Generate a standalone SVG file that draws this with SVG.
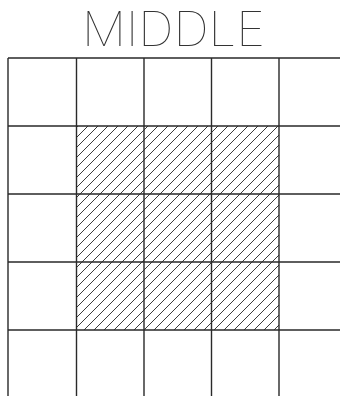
<svg xmlns="http://www.w3.org/2000/svg" width="340" height="396" viewBox="0 0 340 396">
  <defs>
    <pattern id="hatch" patternUnits="userSpaceOnUse" x="4" y="0" width="10" height="10">
      <path d="M-1,1 L1,-1 M0,10 L10,0 M9,11 L11,9" stroke="#3a3a3a" stroke-width="1" fill="none"/>
    </pattern>
  </defs>
  <style>
    .grid { stroke: #2a2a2a; stroke-width: 1.4; fill: none; }
    .title { font-family: Inter, "DejaVu Sans", sans-serif; font-weight: 100; font-size: 47px; fill: #333; }
  </style>
  <rect width="340" height="396" fill="#ffffff"/>
  <text class="title" x="82" y="46" textLength="183" lengthAdjust="spacingAndGlyphs">MIDDLE</text>
  <rect x="76.5" y="126" width="202.5" height="204" fill="url(#hatch)"/>
  <g id="grid" class="grid">
    <path d="M8,58 H340 M8,126 H340 M8,194 H340 M8,262 H340 M8,330 H340"/>
    <path d="M8,58 V396 M76.5,58 V396 M144,58 V396 M211.5,58 V396 M279,58 V396"/>
  </g>
</svg>
